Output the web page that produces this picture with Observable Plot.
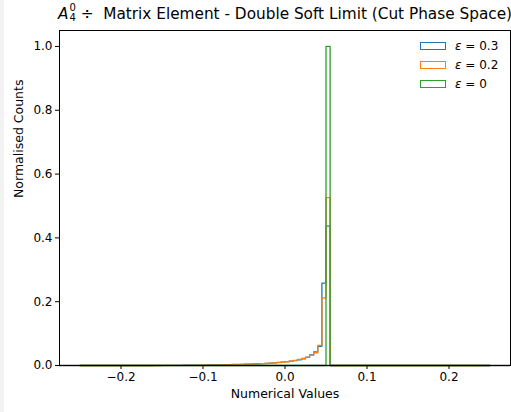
<!DOCTYPE html>
<html>
<head>
<meta charset="utf-8">
<script src="https://cdn.jsdelivr.net/npm/d3@7"></script>
<script src="https://cdn.jsdelivr.net/npm/@observablehq/plot@0.6"></script>
<style>
  html, body { margin: 0; padding: 0; background: #fff; }
  #wrap { position: relative; width: 507px; height: 412px; border-left: 4px solid #f2f2f2; font-family: "DejaVu Sans", sans-serif; }
  #title { position: absolute; top: 4px; left: 0; width: 507px; text-align: center; font-size: 15.3px; color: #000; white-space: nowrap; padding-left: 54px; box-sizing: border-box; }
  .ss { display: inline-block; vertical-align: middle; line-height: 10px; font-size: 10px; position: relative; top: -1px; margin-left: 1px; }
  .ss span { display: block; height: 10px; }
  #legend { position: absolute; top: 36px; left: 416px; font-size: 12px; color: #000; }
  #legend .row { display: flex; align-items: center; height: 19px; }
  #legend .sw { width: 24px; height: 6px; border: 1.4px solid; margin-right: 9px; box-sizing: content-box; }
</style>
</head>
<body>
<div id="wrap">
  <div id="title"><i>A</i><span class="ss"><span>0</span><span>4</span></span> ÷&nbsp; Matrix Element - Double Soft Limit (Cut Phase Space)</div>
  <div id="chart"></div>
  <div id="legend"></div>
</div>
<script>
// Histogram bins: 100 bins of width 0.005 from -0.25 to 0.25
const binStart = -0.25;
const binWidth = 0.005;
const seriesNames = ["ε = 0.3", "ε = 0.2", "ε = 0"];
const seriesColors = ["#1f77b4", "#ff7f0e", "#2ca02c"];
const xTicks = [-0.2, -0.1, 0.0, 0.1, 0.2];
const yTicks = [0, 0.2, 0.4, 0.6, 0.8, 1.0];

// Normalised counts per bin (index 0 = [-0.25,-0.245))
const eps03 = [
  0,0,0,0,0,0,0,0,0,0,
  0,0,0,0,0,0,0,0,0.0001,0.0002,
  0.0003,0.0004,0.0005,0.0006,0.0007,0.0008,0.0009,0.0010,0.0011,0.0012,
  0.0014,0.0016,0.0018,0.0020,0.0022,0.0025,0.0028,0.0031,0.0034,0.0037,
  0.0041,0.0045,0.0050,0.0055,0.0061,0.0068,0.0076,0.0085,0.0095,0.0106,
  0.0120,0.0136,0.0155,0.0180,0.0210,0.0255,0.0330,0.0430,0.0600,0.2580,
  0.4370,0,0,0,0,0,0,0,0,0,
  0,0,0,0,0,0,0,0,0,0,
  0,0,0,0,0,0,0,0,0,0,
  0,0,0,0,0,0,0,0,0,0
];
const eps02 = [
  0,0,0,0,0,0,0,0,0,0,
  0,0,0,0,0,0,0,0,0,0,
  0.0001,0.0001,0.0002,0.0003,0.0003,0.0004,0.0005,0.0006,0.0007,0.0008,
  0.0010,0.0012,0.0014,0.0016,0.0018,0.0020,0.0022,0.0025,0.0028,0.0031,
  0.0035,0.0040,0.0045,0.0050,0.0056,0.0062,0.0070,0.0080,0.0090,0.0102,
  0.0118,0.0138,0.0160,0.0190,0.0220,0.0260,0.0320,0.0400,0.0630,0.2120,
  0.5260,0,0,0,0,0,0,0,0,0,
  0,0,0,0,0,0,0,0,0,0,
  0,0,0,0,0,0,0,0,0,0,
  0,0,0,0,0,0,0,0,0,0
];
const eps0 = [
  0,0,0,0,0,0,0,0,0,0,
  0,0,0,0,0,0,0,0,0,0,
  0,0,0,0,0,0,0,0,0,0,
  0,0,0,0,0,0,0,0,0,0,
  0,0,0,0,0,0,0,0,0,0,
  0,0,0,0,0,0,0,0,0,0,
  1.0,0,0,0,0,0,0,0,0,0,
  0,0,0,0,0,0,0,0,0,0,
  0,0,0,0,0,0,0,0,0,0,
  0,0,0,0,0,0,0,0,0,0
];

function stepPoints(values, name) {
  const pts = [{x: binStart, y: 0, s: name}];
  values.forEach((v, i) => pts.push({x: binStart + i * binWidth, y: v, s: name}));
  pts.push({x: binStart + values.length * binWidth, y: 0, s: name});
  return pts;
}
const allSeries = [eps03, eps02, eps0];

const marks = allSeries.map((vals, k) =>
  Plot.line(stepPoints(vals, seriesNames[k]), {x: "x", y: "y", curve: "step-after", stroke: seriesColors[k], strokeWidth: 1.3})
);

const chart = Plot.plot({
  width: 507,
  height: 412,
  marginLeft: 55,
  marginRight: 1,
  marginTop: 30,
  marginBottom: 47,
  style: {fontFamily: "DejaVu Sans, sans-serif", fontSize: "12px", color: "#000", background: "#fff"},
  x: {domain: [-0.275, 0.275]},
  y: {domain: [0, 1.05]},
  marks: [
    ...marks,
    Plot.ruleY([0], {stroke: "#333", strokeWidth: 1.3}),
    Plot.frame({stroke: "#000", strokeWidth: 1}),
    Plot.axisX({ticks: xTicks, tickFormat: d3.format(".1f"), tickSize: 4, tickPadding: 3, label: null, fontSize: 12}),
    Plot.axisY({ticks: yTicks, tickFormat: d3.format(".1f"), tickSize: 4, tickPadding: 3, label: null, fontSize: 12}),
    Plot.text(["Numerical Values"], {frameAnchor: "bottom", dy: 32, fontSize: 12.5, fill: "#000"}),
    Plot.text(["Normalised Counts"], {frameAnchor: "left", dx: -41, rotate: -90, fontSize: 12.5, fill: "#000"})
  ]
});
document.getElementById("chart").appendChild(chart);

const legend = d3.select("#legend");
seriesNames.forEach((n, k) => {
  const row = legend.append("div").attr("class", "row");
  row.append("div").attr("class", "sw").style("border-color", seriesColors[k]);
  const parts = n.split(" = ");
  row.append("span").html(`<i>${parts[0]}</i> = ${parts[1]}`);
});
</script>
</body>
</html>
